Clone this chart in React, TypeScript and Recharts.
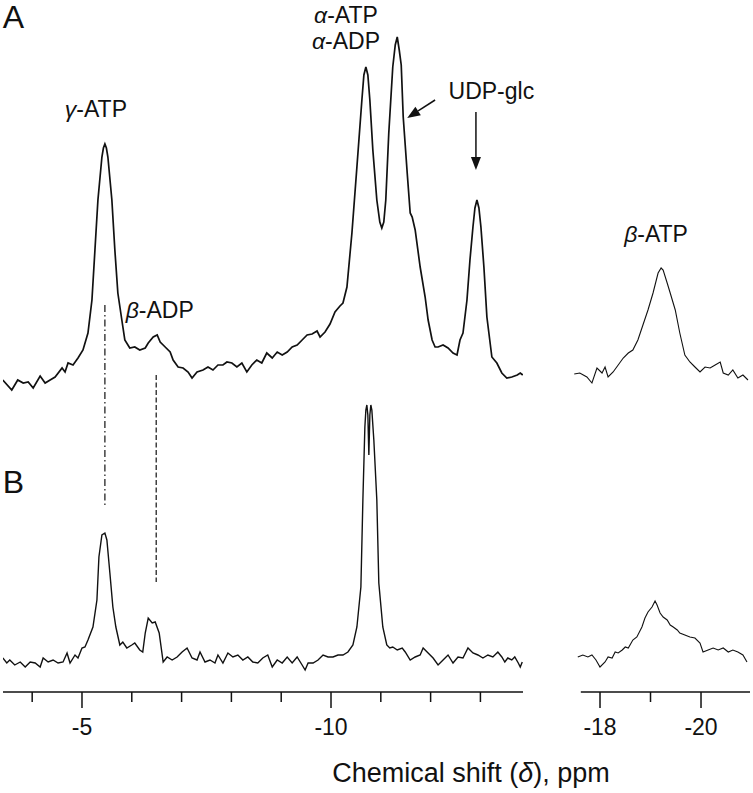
import React from 'react';
import { LineChart, Line, XAxis, YAxis, ReferenceLine, ReferenceDot } from 'recharts';

// ---- Data: [chemical shift (ppm), intensity (a.u.)] ----
const spectrumALeft: [number, number][] = [
  [-3.41, 20], [-3.59, 10], [-3.71, 20], [-3.82, 17], [-3.92, 18], [-4.02, 12], [-4.16, 24], [-4.26, 17],
  [-4.36, 20], [-4.46, 23], [-4.60, 32], [-4.66, 28], [-4.72, 37], [-4.82, 35], [-4.92, 42], [-5.02, 50],
  [-5.12, 67], [-5.20, 100], [-5.26, 150], [-5.32, 200], [-5.40, 243], [-5.43, 252], [-5.46, 256], [-5.49, 252],
  [-5.52, 243], [-5.60, 200], [-5.66, 150], [-5.72, 107], [-5.80, 80], [-5.86, 60], [-5.96, 52], [-6.06, 53],
  [-6.16, 50], [-6.27, 52], [-6.33, 57], [-6.43, 63], [-6.51, 65], [-6.57, 58], [-6.67, 53], [-6.77, 48],
  [-6.83, 40], [-6.93, 33], [-7.03, 32], [-7.13, 28], [-7.21, 22], [-7.31, 28], [-7.43, 30], [-7.53, 33],
  [-7.63, 30], [-7.73, 35], [-7.83, 35], [-7.91, 38], [-8.01, 37], [-8.11, 33], [-8.21, 37], [-8.31, 28],
  [-8.41, 35], [-8.51, 40], [-8.61, 37], [-8.71, 47], [-8.82, 42], [-8.92, 48], [-9.02, 45], [-9.12, 48],
  [-9.22, 53], [-9.32, 55], [-9.42, 60], [-9.52, 65], [-9.62, 66], [-9.72, 69], [-9.78, 63], [-9.88, 68],
  [-9.98, 76], [-10.08, 88], [-10.18, 94], [-10.24, 97], [-10.32, 113], [-10.42, 167], [-10.52, 233],
  [-10.62, 300], [-10.66, 325], [-10.70, 333], [-10.74, 325], [-10.78, 300], [-10.84, 250], [-10.92, 200],
  [-10.98, 178], [-11.02, 172], [-11.06, 178], [-11.10, 200], [-11.16, 267], [-11.24, 333], [-11.29, 355],
  [-11.33, 363], [-11.37, 350], [-11.41, 335], [-11.45, 283], [-11.53, 227], [-11.59, 187], [-11.63, 183],
  [-11.69, 170], [-11.79, 133], [-11.89, 103], [-11.95, 80], [-12.03, 60], [-12.09, 53], [-12.15, 53],
  [-12.25, 55], [-12.35, 52], [-12.45, 47], [-12.53, 45], [-12.59, 60], [-12.65, 67], [-12.73, 100],
  [-12.79, 140], [-12.85, 173], [-12.89, 192], [-12.93, 200], [-12.97, 192], [-13.01, 173], [-13.07, 133],
  [-13.13, 83], [-13.23, 43], [-13.33, 37], [-13.43, 27], [-13.53, 22], [-13.63, 23], [-13.74, 25],
  [-13.80, 27], [-13.85, 25],
];

const spectrumARight: [number, number][] = [
  [-17.49, 26], [-17.60, 27], [-17.74, 23], [-17.84, 17], [-17.94, 32], [-18.04, 27], [-18.10, 33],
  [-18.16, 23], [-18.26, 28], [-18.36, 35], [-18.46, 42], [-18.56, 47], [-18.65, 50], [-18.75, 60],
  [-18.85, 75], [-18.95, 90], [-19.05, 107], [-19.15, 127], [-19.21, 132], [-19.25, 130], [-19.33, 117],
  [-19.39, 107], [-19.49, 90], [-19.58, 67], [-19.68, 45], [-19.78, 38], [-19.88, 33], [-19.98, 28],
  [-20.08, 33], [-20.18, 32], [-20.28, 35], [-20.38, 38], [-20.44, 27], [-20.54, 25], [-20.63, 30],
  [-20.73, 22], [-20.83, 25], [-20.93, 20],
];

const spectrumBLeft: [number, number][] = [
  [-3.41, 34], [-3.49, 29], [-3.55, 32], [-3.65, 27], [-3.76, 30], [-3.86, 25], [-3.96, 30], [-4.06, 29],
  [-4.16, 25], [-4.22, 34], [-4.32, 30], [-4.42, 32], [-4.52, 29], [-4.62, 30], [-4.70, 39], [-4.76, 29],
  [-4.86, 37], [-4.92, 34], [-5.00, 44], [-5.06, 45], [-5.12, 52], [-5.22, 65], [-5.30, 92], [-5.34, 135],
  [-5.40, 157], [-5.46, 159], [-5.50, 152], [-5.56, 119], [-5.62, 85], [-5.68, 65], [-5.76, 47], [-5.82, 50],
  [-5.90, 44], [-6.00, 47], [-6.06, 49], [-6.16, 42], [-6.22, 40], [-6.27, 59], [-6.33, 74], [-6.41, 69],
  [-6.47, 70], [-6.55, 59], [-6.63, 30], [-6.71, 35], [-6.81, 32], [-6.91, 35], [-7.01, 40], [-7.11, 44],
  [-7.21, 34], [-7.31, 32], [-7.37, 40], [-7.47, 30], [-7.57, 32], [-7.67, 29], [-7.73, 37], [-7.83, 29],
  [-7.93, 39], [-8.03, 35], [-8.13, 37], [-8.23, 32], [-8.33, 35], [-8.43, 30], [-8.53, 29], [-8.63, 34],
  [-8.73, 37], [-8.82, 25], [-8.92, 32], [-9.02, 29], [-9.12, 35], [-9.22, 29], [-9.32, 35], [-9.42, 27],
  [-9.48, 22], [-9.54, 29], [-9.64, 29], [-9.74, 32], [-9.84, 37], [-9.94, 35], [-10.04, 35], [-10.14, 37],
  [-10.24, 37], [-10.34, 40], [-10.44, 47], [-10.52, 65], [-10.60, 105], [-10.64, 192], [-10.68, 265],
  [-10.70, 282], [-10.72, 287], [-10.74, 277], [-10.76, 237], [-10.78, 277], [-10.80, 287], [-10.82, 282],
  [-10.86, 252], [-10.92, 192], [-10.96, 109], [-11.04, 65], [-11.12, 47], [-11.18, 44], [-11.24, 45],
  [-11.33, 42], [-11.43, 44], [-11.49, 40], [-11.59, 32], [-11.69, 35], [-11.79, 37], [-11.85, 44],
  [-11.95, 39], [-12.05, 34], [-12.15, 27], [-12.25, 32], [-12.35, 37], [-12.45, 29], [-12.55, 35],
  [-12.65, 34], [-12.75, 44], [-12.85, 39], [-12.95, 37], [-13.05, 34], [-13.15, 37], [-13.25, 35],
  [-13.35, 40], [-13.43, 35], [-13.49, 30], [-13.55, 34], [-13.63, 32], [-13.69, 35], [-13.76, 29],
  [-13.80, 25], [-13.84, 30],
];

const spectrumBRight: [number, number][] = [
  [-17.56, 35], [-17.66, 37], [-17.76, 35], [-17.84, 37], [-17.92, 32], [-18.00, 25], [-18.10, 30],
  [-18.16, 35], [-18.24, 34], [-18.30, 40], [-18.36, 39], [-18.44, 42], [-18.50, 45], [-18.56, 44],
  [-18.65, 52], [-18.73, 55], [-18.83, 65], [-18.89, 74], [-18.95, 80], [-19.03, 85], [-19.09, 91],
  [-19.13, 87], [-19.19, 79], [-19.25, 75], [-19.33, 72], [-19.39, 67], [-19.45, 65], [-19.53, 62],
  [-19.58, 59], [-19.68, 57], [-19.78, 55], [-19.88, 54], [-19.98, 49], [-20.04, 40], [-20.14, 42],
  [-20.24, 44], [-20.34, 42], [-20.44, 44], [-20.54, 40], [-20.63, 42], [-20.73, 40], [-20.83, 37],
  [-20.91, 30],
];

const leftTicks = [-4, -5, -6, -7, -8, -9, -10, -11, -12, -13];
const leftTickLabels = [-5, -10];
const rightTicks = [-18, -19, -20];
const rightTickLabels = [-18, -20];

const leftDomain: [number, number] = [-13.855, -3.414];
const rightDomain: [number, number] = [-20.97, -17.485];
const domainA: [number, number] = [0, 370];
const domainB: [number, number] = [0, 292];

// annotation anchors in data coordinates (ppm, intensity)
const labelsALeft = [
  { text: 'A', ppm: -3.41, v: 372, size: 32, anchor: 'start' },
  { text: 'γ-ATP', ppm: -5.28, v: 283, size: 23, anchor: 'middle' },
  { text: 'β-ADP', ppm: -6.56, v: 82, size: 23, anchor: 'middle' },
  { text: 'α-ATP', ppm: -10.30, v: 377, size: 23, anchor: 'middle' },
  { text: 'α-ADP', ppm: -10.30, v: 351, size: 23, anchor: 'middle' },
  { text: 'UDP-glc', ppm: -13.22, v: 301, size: 23, anchor: 'middle' },
];
const labelsARight = [{ text: 'β-ATP', ppm: -19.11, v: 158, size: 23, anchor: 'middle' }];
const labelsBLeft = [
  { text: 'B', ppm: -3.41, v: 199, size: 32, anchor: 'start' },
  { text: 'Chemical shift (δ), ppm', ppm: -12.81, v: -90, size: 27, anchor: 'middle' },
];
const arrowsALeft = [
  { from: [-12.09, 300], to: [-11.53, 282] },
  { from: [-12.91, 288], to: [-12.91, 230] },
];
const markerLines = [
  { ppm: -5.46, top: 387, bottom: 184, dash: '7 3 1.5 3' },
  { ppm: -6.49, top: 317, bottom: 110, dash: '5 2.5' },
];

const INK = '#111';
const FONT = '"Liberation Sans", Arial, Helvetica, sans-serif';
const W = 753;
const H = 793;

const toRows = (a: [number, number][]) => a.map(([ppm, v]) => ({ ppm, v }));

const renderRich = (s: string) =>
  s.split(/([α-ω])/).filter((p) => p.length > 0).map((p, i) =>
    /[α-ω]/.test(p) ? (
      <tspan key={i} fontStyle="italic">{p}</tspan>
    ) : (
      <tspan key={i}>{p}</tspan>
    )
  );

const textShape = (text: string, size: number, anchor: string) => (p: any) => (
  <text x={p.cx} y={p.cy} textAnchor={anchor} fontSize={size} fontFamily={FONT} fill={INK}>
    {renderRich(text)}
  </text>
);

const arrowShape = (p: any) => {
  const { x1, y1, x2, y2 } = p;
  const dx = x2 - x1;
  const dy = y2 - y1;
  const len = Math.hypot(dx, dy) || 1;
  const ux = dx / len;
  const uy = dy / len;
  const hl = 13;
  const hw = 5;
  const bx = x2 - ux * hl;
  const by = y2 - uy * hl;
  return (
    <g>
      <line x1={x1} y1={y1} x2={bx} y2={by} stroke={INK} strokeWidth={1.5} />
      <polygon points={`${x2},${y2} ${bx - uy * hw},${by + ux * hw} ${bx + uy * hw},${by - ux * hw}`} fill={INK} />
    </g>
  );
};

const makeTick = (labeled: number[]) => (props: any) => {
  const { x, y, payload } = props;
  const major = labeled.includes(payload.value);
  return (
    <g>
      <line x1={x} y1={y} x2={x} y2={y + (major ? 16 : 10)} stroke={INK} strokeWidth={1.5} />
      {major && (
        <text x={x} y={y + 43} textAnchor="middle" fontSize={23} fontFamily={FONT} fill={INK}>
          {payload.value}
        </text>
      )}
    </g>
  );
};

const abs: React.CSSProperties = { position: 'absolute', left: 0, top: 0, width: W, height: H };

export default function App() {
  return (
    <div style={{ position: 'absolute', left: 0, top: 0, width: W, height: H, background: '#fff', overflow: 'hidden' }}>
      {/* Panel A, left segment */}
      <div style={abs}>
        <LineChart width={W} height={H} data={toRows(spectrumALeft)} margin={{ top: 30, right: 230, bottom: 393, left: 3 }}>
          <XAxis hide type="number" dataKey="ppm" domain={leftDomain} reversed allowDataOverflow />
          <YAxis hide type="number" domain={domainA} allowDataOverflow />
          <Line type="linear" dataKey="v" stroke={INK} strokeWidth={1.7} dot={false} activeDot={false} isAnimationActive={false} />
          {arrowsALeft.map((a, i) => (
            <ReferenceLine
              key={'ar' + i}
              segment={[{ x: a.from[0], y: a.from[1] }, { x: a.to[0], y: a.to[1] }]}
              ifOverflow="visible"
              shape={arrowShape}
            />
          ))}
          {labelsALeft.map((l, i) => (
            <ReferenceDot key={'la' + i} x={l.ppm} y={l.v} r={0} ifOverflow="visible" shape={textShape(l.text, l.size, l.anchor)} />
          ))}
        </LineChart>
      </div>
      {/* Panel A, right segment */}
      <div style={abs}>
        <LineChart width={W} height={H} data={toRows(spectrumARight)} margin={{ top: 30, right: 3, bottom: 393, left: 574 }}>
          <XAxis hide type="number" dataKey="ppm" domain={rightDomain} reversed allowDataOverflow />
          <YAxis hide type="number" domain={domainA} allowDataOverflow />
          <Line type="linear" dataKey="v" stroke={INK} strokeWidth={1.1} dot={false} activeDot={false} isAnimationActive={false} />
          {labelsARight.map((l, i) => (
            <ReferenceDot key={'lr' + i} x={l.ppm} y={l.v} r={0} ifOverflow="visible" shape={textShape(l.text, l.size, l.anchor)} />
          ))}
        </LineChart>
      </div>
      {/* Panel B, left segment with axis */}
      <div style={abs}>
        <LineChart width={W} height={H} data={toRows(spectrumBLeft)} margin={{ top: 400, right: 230, bottom: 61, left: 3 }}>
          <XAxis
            type="number"
            dataKey="ppm"
            domain={leftDomain}
            reversed
            allowDataOverflow
            ticks={leftTicks}
            interval={0}
            height={40}
            tickSize={0}
            tickMargin={0}
            tickLine={false}
            axisLine={{ stroke: INK, strokeWidth: 1.6 }}
            tick={makeTick(leftTickLabels)}
          />
          <YAxis hide type="number" domain={domainB} allowDataOverflow />
          <Line type="linear" dataKey="v" stroke={INK} strokeWidth={1.4} dot={false} activeDot={false} isAnimationActive={false} />
          {markerLines.map((m, i) => (
            <ReferenceLine
              key={'ml' + i}
              segment={[{ x: m.ppm, y: m.top }, { x: m.ppm, y: m.bottom }]}
              ifOverflow="visible"
              stroke={INK}
              strokeWidth={1.2}
              strokeDasharray={m.dash}
            />
          ))}
          {labelsBLeft.map((l, i) => (
            <ReferenceDot key={'lb' + i} x={l.ppm} y={l.v} r={0} ifOverflow="visible" shape={textShape(l.text, l.size, l.anchor)} />
          ))}
        </LineChart>
      </div>
      {/* Panel B, right segment with axis */}
      <div style={abs}>
        <LineChart width={W} height={H} data={toRows(spectrumBRight)} margin={{ top: 400, right: 3, bottom: 61, left: 574 }}>
          <XAxis
            type="number"
            dataKey="ppm"
            domain={rightDomain}
            reversed
            allowDataOverflow
            ticks={rightTicks}
            interval={0}
            height={40}
            tickSize={0}
            tickMargin={0}
            tickLine={false}
            axisLine={false}
            tick={makeTick(rightTickLabels)}
          />
          <YAxis hide type="number" domain={domainB} allowDataOverflow />
          <ReferenceLine
            segment={[{ x: -17.62, y: 0 }, { x: -20.97, y: 0 }]}
            ifOverflow="visible"
            stroke={INK}
            strokeWidth={1.6}
          />
          <Line type="linear" dataKey="v" stroke={INK} strokeWidth={1.1} dot={false} activeDot={false} isAnimationActive={false} />
        </LineChart>
      </div>
    </div>
  );
}
